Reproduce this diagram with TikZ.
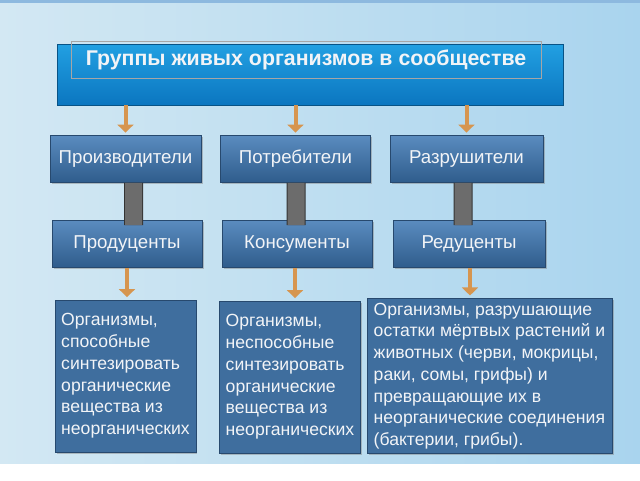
\documentclass[tikz,border=0pt]{standalone}
\usepackage{fontspec}
\setmainfont{Liberation Sans}
\usetikzlibrary{arrows.meta,shadows}
\definecolor{bgleft}{HTML}{D3E8F3}
\definecolor{bgmid}{HTML}{E8F3F8}
\definecolor{bgright}{HTML}{A9D4EE}
\definecolor{bgtop}{HTML}{8DB9DF}
\definecolor{titletop}{HTML}{22A0E2}
\definecolor{titlebot}{HTML}{0B76C0}
\definecolor{boxtop}{HTML}{5A8CBF}
\definecolor{boxbot}{HTML}{2F5C8C}
\definecolor{boxline}{HTML}{27496E}
\definecolor{descfill}{HTML}{3F6E9E}
\definecolor{arrowc}{HTML}{D6954F}
\definecolor{barfill}{HTML}{6C6C6C}
\definecolor{barline}{HTML}{333333}
\definecolor{txt}{HTML}{F2F4F7}

\begin{document}
\begin{tikzpicture}[x=0.75pt, y=-0.75pt,
  group/.style={rectangle, draw=boxline, top color=boxtop, bottom color=boxbot, text=txt,
    font=\fontsize{14}{16}\selectfont, minimum height=35.25pt, inner sep=0pt,
    drop shadow={shadow xshift=1.2pt, shadow yshift=-1.2pt, opacity=0.45}},
  desc/.style={rectangle, draw=boxline, fill=descfill, text=txt, align=left, inner xsep=4.5pt,
    font=\fontsize{13.2}{16.3}\selectfont,
    drop shadow={shadow xshift=1.2pt, shadow yshift=-1.2pt, opacity=0.45}},
  flow/.style={arrowc, line width=3pt, shorten >=2pt, -{Triangle[width=12pt, length=6pt]}},
  bar/.style={draw=barline, line width=0.75pt, double=barfill, double distance=12.75pt}]
   \fill[white] (0,0) rectangle (640,480);
   \fill[left color=bgleft, middle color=bgmid, right color=bgright] (0,0) rectangle (640,463);
   \fill[bgtop] (0,0) rectangle (640,3);
   \useasboundingbox (0,0) rectangle (640,480);
   \node[rectangle, draw=titlebot!70!black, top color=titletop, bottom color=titlebot,
     minimum width=379.5pt, minimum height=45.75pt, inner sep=0pt] (title) at (310,74.5) {};
   \node[rectangle, draw=gray!70, line width=0.5pt, minimum width=352.5pt, minimum height=27.75pt,
     inner sep=0pt, text=txt, font=\bfseries\fontsize{16}{18}\selectfont] (heading) at (306,60)
     {Группы живых организмов в сообществе};
   \node[group, minimum width=113.25pt] (prod) at (125.5,159) {Производители};
   \node[group, minimum width=112.5pt] (potr) at (295.5,159) {Потребители};
   \node[group, minimum width=114.75pt] (razr) at (466.5,159) {Разрушители};
   \node[group, minimum width=112.5pt] (produc) at (127,244) {Продуценты};
   \node[group, minimum width=112.5pt] (konsum) at (297,244) {Консументы};
   \node[group, minimum width=114pt] (redu) at (469,244) {Редуценты};
   \node[desc, minimum width=102.75pt, minimum height=114pt] (orgA) at (125.5,376)
     {Организмы,\\способные\\синтезировать\\органические\\вещества из\\неорганических};
   \node[desc, minimum width=100.5pt, minimum height=114pt] (orgB) at (290,377)
     {Организмы,\\неспособные\\синтезировать\\органические\\вещества из\\неорганических};
   \node[desc, minimum width=183.75pt, minimum height=115.5pt] (orgC) at (489.5,376)
     {Организмы, разрушающие\\остатки мёртвых растений и\\животных (черви, мокрицы,\\раки, сомы, грифы) и\\превращающие их в\\неорганические соединения\\(бактерии, грибы).};
   \draw[flow] (prod.north |- title.south) -- (prod.north);
   \draw[flow] (potr.north |- title.south) -- (potr.north);
   \draw[flow] (razr.north |- title.south) -- (razr.north);
   \draw[bar] ([xshift=6pt]prod.south) -- ([xshift=4.9pt, yshift=-3.75pt]produc.north);
   \draw[bar] ([xshift=0.4pt]potr.south) -- ([xshift=-0.75pt, yshift=-3.75pt]konsum.north);
   \draw[bar] ([xshift=-2.6pt]razr.south) -- ([xshift=-4.5pt, yshift=-3.75pt]redu.north);
   \draw[flow] (produc.south) -- (produc.south |- orgA.north);
   \draw[flow] ([xshift=-1.5pt]konsum.south) -- ([xshift=-1.5pt]konsum.south |- orgB.north);
   \draw[flow] ([xshift=0.75pt]redu.south) -- ([xshift=0.75pt]redu.south |- orgC.north);
\end{tikzpicture}
\end{document}
